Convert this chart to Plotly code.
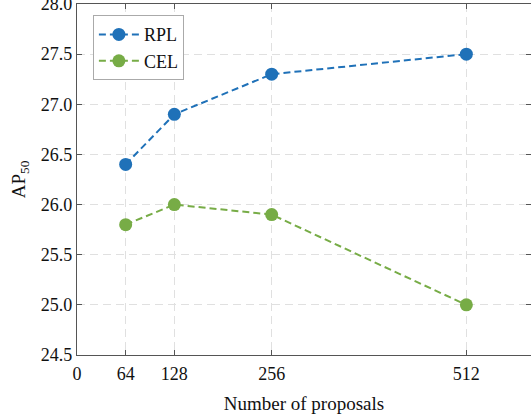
import plotly.graph_objects as go

proposals = [64, 128, 256, 512]
rpl = [26.4, 26.9, 27.3, 27.5]
cel = [25.8, 26.0, 25.9, 25.0]
x_ticks = [0, 64, 128, 256, 512]
y_ticks = [24.5, 25.0, 25.5, 26.0, 26.5, 27.0, 27.5, 28.0]

FONT = "Liberation Serif"
fig = go.Figure()
fig.add_trace(go.Scatter(x=proposals, y=rpl, name="RPL", mode="lines+markers",
                         line=dict(color="#1f71b8", width=2, dash="7px,4px"),
                         marker=dict(size=13, color="#1f71b8")))
fig.add_trace(go.Scatter(x=proposals, y=cel, name="CEL", mode="lines+markers",
                         line=dict(color="#77ac46", width=2, dash="7px,4px"),
                         marker=dict(size=13, color="#77ac46")))

axis_common = dict(showline=True, linecolor="#555555", linewidth=1.2, mirror="ticks",
                   ticks="inside", ticklen=5, tickcolor="#555555",
                   showgrid=True, gridcolor="#e0e0e0", griddash="8px,5px", gridwidth=1,
                   zeroline=False, automargin=False, ticklabeloverflow="allow",
                   tickfont=dict(family=FONT, size=18, color="#111111"))

fig.update_layout(
    width=531, height=417,
    margin=dict(l=77, r=0, t=4, b=62),
    paper_bgcolor="white", plot_bgcolor="white",
    font=dict(family=FONT, size=18, color="#111111"),
    xaxis=dict(range=[0, 597], tickvals=x_ticks, ticktext=[str(v) for v in x_ticks],
               ticklabelstandoff=2,
               title=dict(text="Number of proposals", font=dict(family=FONT, size=19), standoff=13),
               **axis_common),
    yaxis=dict(range=[24.5, 28.0], tickvals=y_ticks, ticktext=[f"{v:.1f}" for v in y_ticks],
               title=dict(text="AP<sub>50</sub>", font=dict(family=FONT, size=19), standoff=10),
               **axis_common),
    legend=dict(x=0.035, y=0.968, xanchor="left", yanchor="top",
                bordercolor="#aaaaaa", borderwidth=1, bgcolor="white",
                font=dict(family=FONT, size=18), tracegroupgap=0, itemwidth=40),
    showlegend=True,
)
fig.write_html("out.html", config={"displayModeBar": False},
               post_script="document.body.style.margin='0';document.body.style.overflow='hidden';")
